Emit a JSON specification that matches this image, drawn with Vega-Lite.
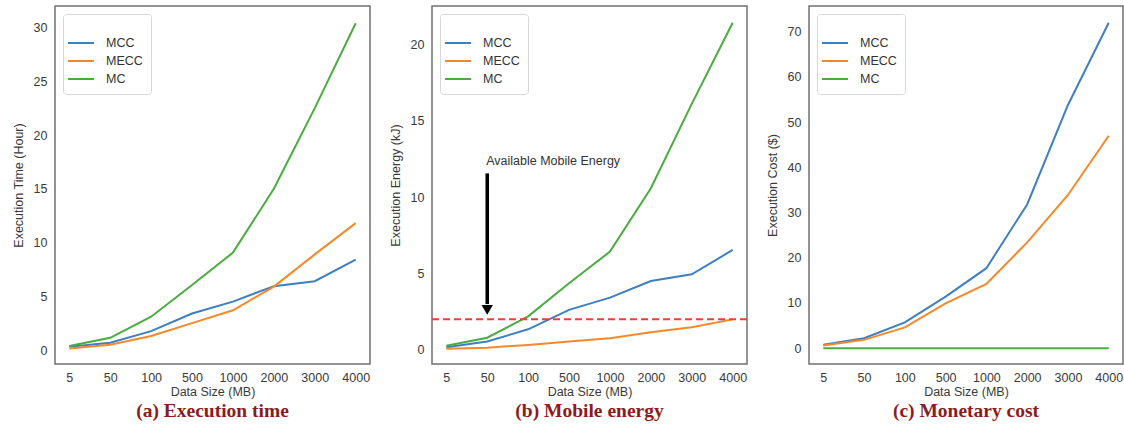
{
  "$schema": "https://vega.github.io/schema/vega-lite/v6.json",
  "background": "white",
  "padding": {"left": 11, "top": 5, "right": 0, "bottom": 0},
  "autosize": {"type": "pad"},
  "config": {
    "font": "Liberation Sans",
    "view": {"stroke": "#707070", "strokeWidth": 1.5},
    "axis": {"grid": false, "domain": false, "ticks": false, "labelColor": "#3a3a3a", "titleColor": "#3a3a3a", "labelFontSize": 12.5, "titleFontSize": 12.5, "titleFontWeight": "normal", "labelFont": "Liberation Sans", "titleFont": "Liberation Sans"},
    "legend": {"orient": "top-left", "offset": 8, "strokeColor": "#d8d8d8", "fillColor": "white", "cornerRadius": 3, "padding": 8, "symbolType": "M-1.45,0H1.45", "symbolSize": 324, "symbolStrokeWidth": 2, "labelFontSize": 12.5, "labelColor": "#333", "labelFont": "Liberation Sans", "rowPadding": 1, "labelOffset": 15, "titleFontSize": 8, "titlePadding": 3},
    "title": {"orient": "bottom", "font": "Liberation Serif", "fontSize": 19.5, "fontWeight": "bold", "color": "#8b1c1c", "offset": 0, "anchor": "middle"}
  },
  "datasets": {
    "exec": [
      {"panel": "a", "size": "5", "series": "MCC", "value": 0.3},
      {"panel": "a", "size": "50", "series": "MCC", "value": 0.68},
      {"panel": "a", "size": "100", "series": "MCC", "value": 1.76},
      {"panel": "a", "size": "500", "series": "MCC", "value": 3.4},
      {"panel": "a", "size": "1000", "series": "MCC", "value": 4.5},
      {"panel": "a", "size": "2000", "series": "MCC", "value": 5.94},
      {"panel": "a", "size": "3000", "series": "MCC", "value": 6.4},
      {"panel": "a", "size": "4000", "series": "MCC", "value": 8.4},
      {"panel": "a", "size": "5", "series": "MECC", "value": 0.15},
      {"panel": "a", "size": "50", "series": "MECC", "value": 0.5},
      {"panel": "a", "size": "100", "series": "MECC", "value": 1.3},
      {"panel": "a", "size": "500", "series": "MECC", "value": 2.5},
      {"panel": "a", "size": "1000", "series": "MECC", "value": 3.7},
      {"panel": "a", "size": "2000", "series": "MECC", "value": 5.9},
      {"panel": "a", "size": "3000", "series": "MECC", "value": 8.9},
      {"panel": "a", "size": "4000", "series": "MECC", "value": 11.8},
      {"panel": "a", "size": "5", "series": "MC", "value": 0.37},
      {"panel": "a", "size": "50", "series": "MC", "value": 1.14},
      {"panel": "a", "size": "100", "series": "MC", "value": 3.1},
      {"panel": "a", "size": "500", "series": "MC", "value": 6.05},
      {"panel": "a", "size": "1000", "series": "MC", "value": 9.06},
      {"panel": "a", "size": "2000", "series": "MC", "value": 15.0},
      {"panel": "a", "size": "3000", "series": "MC", "value": 22.5},
      {"panel": "a", "size": "4000", "series": "MC", "value": 30.4},
      {"panel": "b", "size": "5", "series": "MCC", "value": 0.17},
      {"panel": "b", "size": "50", "series": "MCC", "value": 0.55},
      {"panel": "b", "size": "100", "series": "MCC", "value": 1.35},
      {"panel": "b", "size": "500", "series": "MCC", "value": 2.62},
      {"panel": "b", "size": "1000", "series": "MCC", "value": 3.42},
      {"panel": "b", "size": "2000", "series": "MCC", "value": 4.51},
      {"panel": "b", "size": "3000", "series": "MCC", "value": 4.95},
      {"panel": "b", "size": "4000", "series": "MCC", "value": 6.54},
      {"panel": "b", "size": "5", "series": "MECC", "value": 0.07},
      {"panel": "b", "size": "50", "series": "MECC", "value": 0.15},
      {"panel": "b", "size": "100", "series": "MECC", "value": 0.33},
      {"panel": "b", "size": "500", "series": "MECC", "value": 0.55},
      {"panel": "b", "size": "1000", "series": "MECC", "value": 0.76},
      {"panel": "b", "size": "2000", "series": "MECC", "value": 1.16},
      {"panel": "b", "size": "3000", "series": "MECC", "value": 1.48},
      {"panel": "b", "size": "4000", "series": "MECC", "value": 2.0},
      {"panel": "b", "size": "5", "series": "MC", "value": 0.28},
      {"panel": "b", "size": "50", "series": "MC", "value": 0.8},
      {"panel": "b", "size": "100", "series": "MC", "value": 2.2},
      {"panel": "b", "size": "500", "series": "MC", "value": 4.36},
      {"panel": "b", "size": "1000", "series": "MC", "value": 6.43},
      {"panel": "b", "size": "2000", "series": "MC", "value": 10.58},
      {"panel": "b", "size": "3000", "series": "MC", "value": 16.1},
      {"panel": "b", "size": "4000", "series": "MC", "value": 21.4},
      {"panel": "c", "size": "5", "series": "MCC", "value": 0.74},
      {"panel": "c", "size": "50", "series": "MCC", "value": 2.2},
      {"panel": "c", "size": "100", "series": "MCC", "value": 5.7},
      {"panel": "c", "size": "500", "series": "MCC", "value": 11.4},
      {"panel": "c", "size": "1000", "series": "MCC", "value": 17.7},
      {"panel": "c", "size": "2000", "series": "MCC", "value": 31.8},
      {"panel": "c", "size": "3000", "series": "MCC", "value": 53.8},
      {"panel": "c", "size": "4000", "series": "MCC", "value": 72.0},
      {"panel": "c", "size": "5", "series": "MECC", "value": 0.6},
      {"panel": "c", "size": "50", "series": "MECC", "value": 1.84},
      {"panel": "c", "size": "100", "series": "MECC", "value": 4.6},
      {"panel": "c", "size": "500", "series": "MECC", "value": 9.9},
      {"panel": "c", "size": "1000", "series": "MECC", "value": 14.2},
      {"panel": "c", "size": "2000", "series": "MECC", "value": 23.4},
      {"panel": "c", "size": "3000", "series": "MECC", "value": 33.9},
      {"panel": "c", "size": "4000", "series": "MECC", "value": 47.0},
      {"panel": "c", "size": "5", "series": "MC", "value": 0},
      {"panel": "c", "size": "50", "series": "MC", "value": 0},
      {"panel": "c", "size": "100", "series": "MC", "value": 0},
      {"panel": "c", "size": "500", "series": "MC", "value": 0},
      {"panel": "c", "size": "1000", "series": "MC", "value": 0},
      {"panel": "c", "size": "2000", "series": "MC", "value": 0},
      {"panel": "c", "size": "3000", "series": "MC", "value": 0},
      {"panel": "c", "size": "4000", "series": "MC", "value": 0}
    ],
    "limit": [{"level": 2.0}],
    "arrow": [{"size": "50", "start": 11.55, "end": 3.0, "head": 2.62, "label": "Available Mobile Energy", "labelY": 12.35}]
  },
  "hconcat": [
    {
      "width": 315, "height": 358,
      "title": "(a) Execution time",
      "data": {"name": "exec"},
      "transform": [{"filter": "datum.panel === 'a'"}],
      "mark": {"type": "line", "strokeWidth": 2},
      "encoding": {
        "x": {"field": "size", "type": "ordinal", "scale": {"type": "point", "padding": 0.35, "domain": ["5", "50", "100", "500", "1000", "2000", "3000", "4000"]}, "axis": {"title": "Data Size (MB)", "labelAngle": 0, "labelPadding": 7, "titlePadding": 2}},
        "y": {"field": "value", "type": "quantitative", "scale": {"domain": [-1.3, 32.0], "nice": false, "zero": false}, "axis": {"title": "Execution Time  (Hour)", "values": [0, 5, 10, 15, 20, 25, 30], "labelPadding": 8, "titlePadding": 8}},
        "color": {"field": "series", "type": "nominal", "scale": {"domain": ["MCC", "MECC", "MC"], "range": ["#3f7fbf", "#f5892a", "#4aac3f"]}, "legend": {"title": " "}}
      }
    },
    {
      "width": 315, "height": 358,
      "title": "(b) Mobile energy",
      "encoding": {
        "x": {"field": "size", "type": "ordinal", "scale": {"type": "point", "padding": 0.35, "domain": ["5", "50", "100", "500", "1000", "2000", "3000", "4000"]}, "axis": {"title": "Data Size (MB)", "labelAngle": 0, "labelPadding": 7, "titlePadding": 2}}
      },
      "layer": [
        {
          "data": {"name": "exec"},
          "transform": [{"filter": "datum.panel === 'b'"}],
          "mark": {"type": "line", "strokeWidth": 2},
          "encoding": {
            "y": {"field": "value", "type": "quantitative", "scale": {"domain": [-0.92, 22.5], "nice": false, "zero": false}, "axis": {"title": "Execution Energy (kJ)", "values": [0, 5, 10, 15, 20], "labelPadding": 8, "titlePadding": 8}},
            "color": {"field": "series", "type": "nominal", "scale": {"domain": ["MCC", "MECC", "MC"], "range": ["#3f7fbf", "#f5892a", "#4aac3f"]}, "legend": {"title": " "}}
          }
        },
        {
          "data": {"name": "limit"},
          "mark": {"type": "rule", "color": "#e8403a", "strokeWidth": 2, "strokeDash": [7, 4]},
          "encoding": {"x": null, "y": {"field": "level", "type": "quantitative"}}
        },
        {
          "data": {"name": "arrow"},
          "mark": {"type": "rule", "color": "black", "strokeWidth": 3.5},
          "encoding": {
            "y": {"field": "start", "type": "quantitative"},
            "y2": {"field": "end"}
          }
        },
        {
          "data": {"name": "arrow"},
          "mark": {"type": "point", "shape": "triangle-down", "filled": true, "color": "black", "opacity": 1, "size": 130},
          "encoding": {
            "y": {"field": "head", "type": "quantitative"}
          }
        },
        {
          "data": {"name": "arrow"},
          "mark": {"type": "text", "align": "left", "baseline": "middle", "fontSize": 12.5, "color": "#333", "font": "Liberation Sans", "dx": -1},
          "encoding": {
            "y": {"field": "labelY", "type": "quantitative"},
            "text": {"field": "label"}
          }
        }
      ]
    },
    {
      "width": 314, "height": 358,
      "title": "(c) Monetary cost",
      "data": {"name": "exec"},
      "transform": [{"filter": "datum.panel === 'c'"}],
      "mark": {"type": "line", "strokeWidth": 2},
      "encoding": {
        "x": {"field": "size", "type": "ordinal", "scale": {"type": "point", "padding": 0.35, "domain": ["5", "50", "100", "500", "1000", "2000", "3000", "4000"]}, "axis": {"title": "Data Size (MB)", "labelAngle": 0, "labelPadding": 7, "titlePadding": 2}},
        "y": {"field": "value", "type": "quantitative", "scale": {"domain": [-3.5, 75.7], "nice": false, "zero": false}, "axis": {"title": "Execution Cost ($)", "values": [0, 10, 20, 30, 40, 50, 60, 70], "labelPadding": 8, "titlePadding": 8}},
        "color": {"field": "series", "type": "nominal", "scale": {"domain": ["MCC", "MECC", "MC"], "range": ["#3f7fbf", "#f5892a", "#4aac3f"]}, "legend": {"title": " "}}
      }
    }
  ],
  "spacing": 62,
  "bounds": "flush",
  "resolve": {"scale": {"y": "independent", "x": "independent", "color": "independent"}, "legend": {"color": "independent"}}
}
